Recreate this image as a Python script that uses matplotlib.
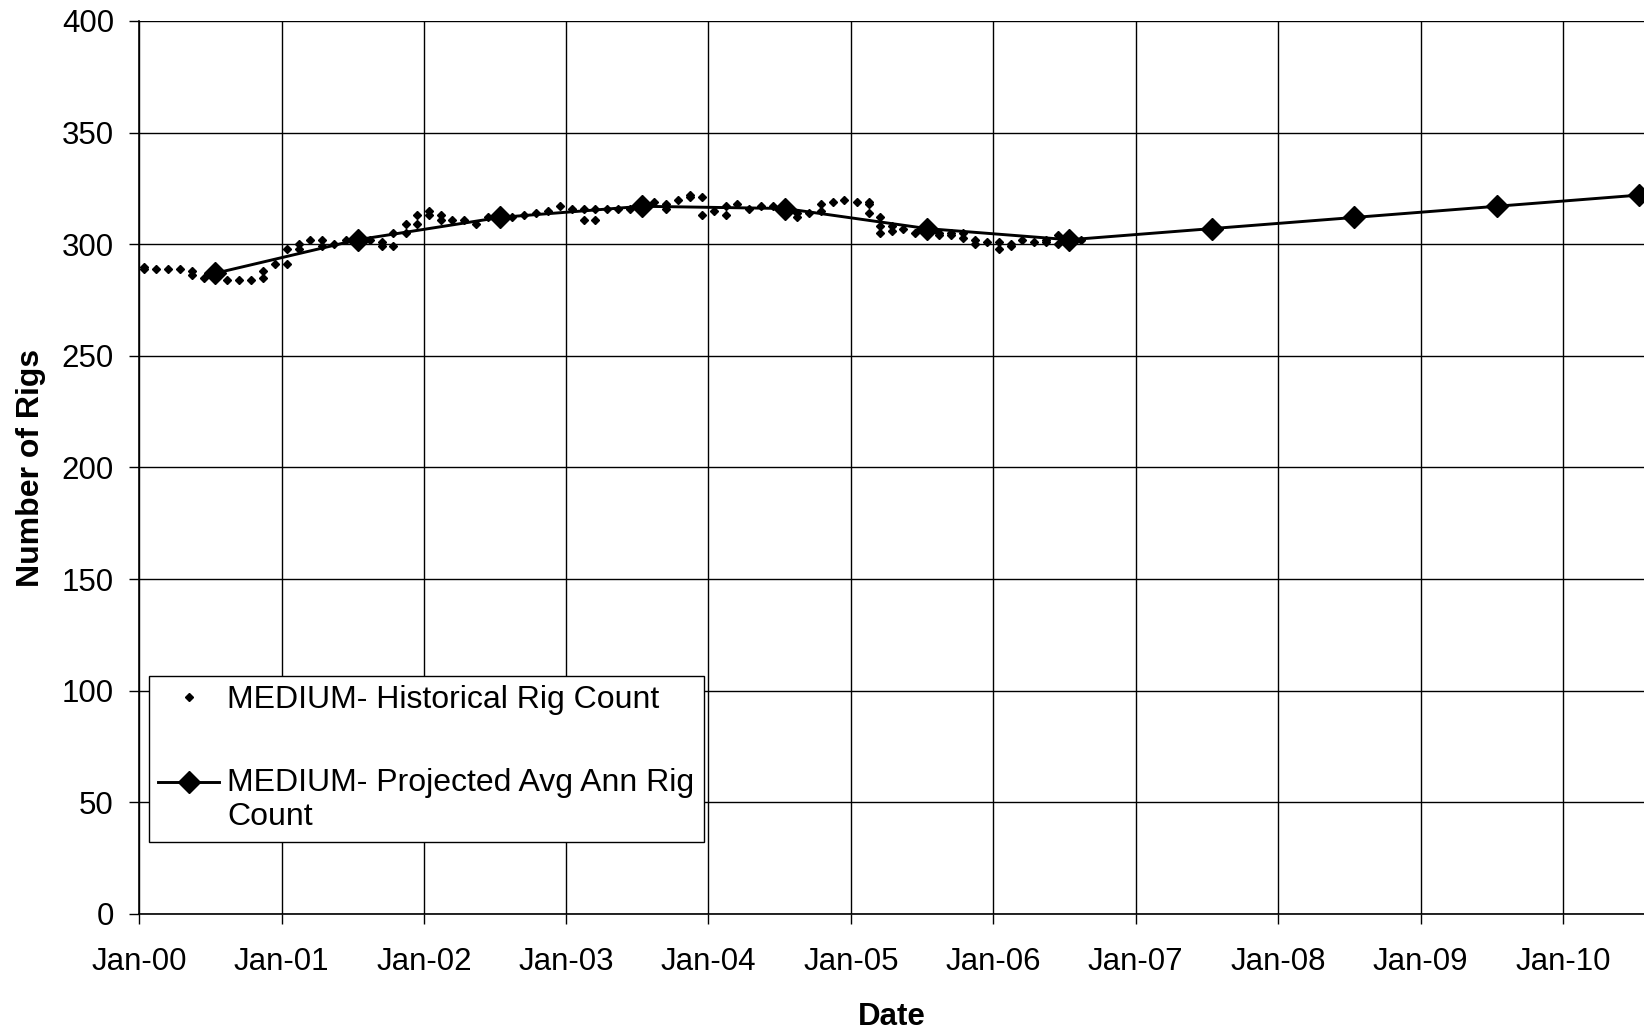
import datetime as dt
import matplotlib
matplotlib.use("Agg")
import matplotlib.pyplot as plt
import matplotlib.dates as mdates
from matplotlib.legend_handler import HandlerLine2D

plt.rcParams['font.family'] = ['Liberation Sans', 'DejaVu Sans']

# monthly rig counts (month index from Jan-2000), several readings per month in places
hist_month = [0, 0, 1, 2, 3, 4, 4, 5, 6, 7, 8, 9, 10, 10, 11, 12, 12, 13, 13, 14,
              15, 15, 16, 17, 18, 19, 20, 20, 21, 21, 22, 22, 23, 23, 24, 24, 25, 25,
              26, 27, 28, 29, 30, 31, 32, 33, 34, 35, 36, 37, 37, 38, 38, 39, 40, 41,
              42, 43, 44, 44, 45, 46, 46, 47, 47, 48, 49, 49, 50, 51, 52, 53, 54, 55,
              55, 56, 57, 57, 58, 59, 60, 61, 61, 61, 62, 62, 62, 63, 63, 64, 65, 66,
              67, 67, 68, 68, 69, 69, 70, 70, 71, 72, 72, 73, 73, 74, 75, 76, 76, 77,
              77, 78, 79]
hist_count = [290, 289, 289, 289, 289, 288, 286, 285, 285, 284, 284, 284, 288, 285,
              291, 298, 291, 300, 298, 302, 302, 299, 300, 302, 302, 302, 301, 299,
              305, 299, 309, 305, 313, 309, 315, 313, 313, 311, 311, 311, 309, 312,
              312, 312, 313, 314, 315, 317, 316, 316, 311, 316, 311, 316, 316, 316,
              317, 319, 318, 316, 320, 322, 321, 321, 313, 315, 317, 313, 318, 316,
              317, 317, 316, 314, 312, 314, 318, 315, 319, 320, 319, 319, 318, 314,
              312, 308, 305, 308, 306, 307, 305, 307, 305, 304, 305, 304, 305, 303,
              302, 300, 301, 301, 298, 300, 299, 302, 301, 302, 301, 304, 300, 302,
              302]

# projected average annual rig count, plotted mid-year
proj_year = [2000, 2001, 2002, 2003, 2004, 2005, 2006, 2007, 2008, 2009, 2010]
proj_count = [287, 302, 312, 317, 316, 307, 302, 307, 312, 317, 322]

hist_dates = [dt.date(2000 + m // 12, m % 12 + 1, 15) for m in hist_month]
proj_dates = [dt.date(y, 7, 15) for y in proj_year]


class TopLineHandler(HandlerLine2D):
    # put the legend key level with the first line of a wrapped label
    def create_artists(self, legend, orig_handle, xdescent, ydescent, width,
                       height, fontsize, trans):
        artists = super().create_artists(legend, orig_handle, xdescent, ydescent,
                                         width, height, fontsize, trans)
        for a in artists:
            a.set_ydata([y + 0.57 * fontsize for y in a.get_ydata()])
        return artists


fig = plt.figure(figsize=(16.44, 10.33), dpi=100)
ax = fig.add_axes([0.0845, 0.1152, 0.9155, 0.8645])

ax.plot(hist_dates, hist_count, linestyle='none', marker='D', markersize=4.2,
        color='black', label='MEDIUM- Historical Rig Count', zorder=3)
proj_line, = ax.plot(proj_dates, proj_count, color='black', linewidth=2.1, marker='D',
                     markersize=11, label='MEDIUM- Projected Avg Ann Rig\nCount', zorder=4)

ax.set_ylim(0, 400)
ax.set_yticks(range(0, 401, 50))
ax.set_xlim(dt.date(2000, 1, 1), dt.date(2010, 7, 28))
ax.xaxis.set_major_locator(mdates.YearLocator())
ax.xaxis.set_major_formatter(mdates.DateFormatter('%b-%y'))

ax.grid(True, color='black', linewidth=1.0)
ax.set_axisbelow(True)
for s in ['top', 'right']:
    ax.spines[s].set_visible(False)
ax.spines['left'].set_linewidth(1.2)
ax.spines['bottom'].set_linewidth(1.2)

ax.tick_params(axis='both', direction='out', length=7, width=1, labelsize=22.5)
ax.tick_params(axis='y', pad=11)
ax.tick_params(axis='x', pad=17)

ax.set_xlabel('Date', fontsize=22.5, fontweight='bold', labelpad=18)
ax.set_ylabel('Number of Rigs', fontsize=23, fontweight='bold', labelpad=11)

leg = ax.legend(loc='lower left', bbox_to_anchor=(0.0066, 0.0806), fontsize=23,
                frameon=True, fancybox=False, edgecolor='black', framealpha=1,
                borderaxespad=0, borderpad=0.3, handlelength=1.9, handletextpad=0.25,
                labelspacing=1.65, handler_map={proj_line: TopLineHandler()})
leg.get_frame().set_linewidth(1.0)

fig.savefig('out.png', dpi=100)
